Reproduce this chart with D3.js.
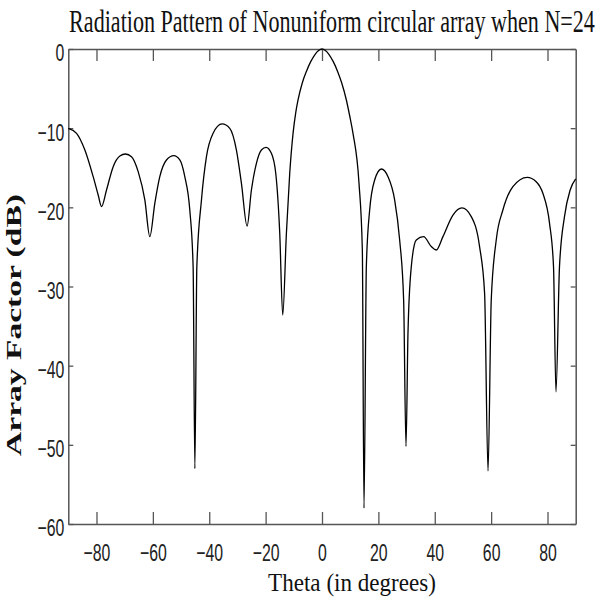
<!DOCTYPE html>
<html><head><meta charset="utf-8">
<script src="https://cdn.jsdelivr.net/npm/d3@7/dist/d3.min.js"></script>
<style>body{margin:0;background:#fff}svg{display:block}</style>
</head><body>
<svg id="chart" width="600" height="604"></svg>
<script>
// Angle (degrees) and array factor (dB)
const thetaDeg = [
  -90.0, -87.07, -84.12, -81.17, -79.40, -78.21, -76.44, -74.08, -71.71, -69.70,
  -67.58, -65.21, -62.85, -61.08, -59.31, -57.54, -55.17, -52.57, -50.44, -48.67,
  -46.90, -45.72, -45.10, -44.40, -42.76, -40.99, -38.63, -35.44, -32.72, -30.36,
  -28.58, -26.58, -25.04, -23.27, -21.49, -19.84, -17.95, -16.41, -14.99, -13.93,
  -12.63, -11.45, -10.27, -9.3, -8.50, -7.0, -5.5, -4.0, -2.5, -1.2, 0,
  1.2, 2.5, 4.0, 5.5, 7.0, 8.64, 9.8, 11.0, 13.13, 14.31, 14.90,
  15.73, 16.91, 18.68, 21.05, 23.41, 25.77, 27.55, 28.96, 29.80, 30.50,
  31.68, 33.45, 36.05, 38.77, 40.54, 42.90, 46.45, 49.64, 52.95, 55.90,
  57.68, 58.90, 60.04, 61.81, 64.17, 67.72, 72.80, 75.99, 78.35, 80.72,
  82.13, 83.0, 84.25, 86.02, 88.03, 90.0
];
const afDb = [
  -10.02, -10.65, -12.76, -16.13, -18.44, -19.91, -17.81, -14.86, -13.52, -13.26,
  -13.60, -15.49, -19.07, -23.70, -19.49, -16.13, -14.02, -13.47, -14.02, -16.13,
  -20.34, -27.49, -53.0, -27.5, -19.07, -13.60, -10.65, -9.47, -10.02, -12.76,
  -16.97, -22.36, -17.81, -14.44, -12.76, -12.42, -13.18, -15.70, -23.28, -33.6,
  -23.28, -15.70, -10.65, -8.0, -6.44, -4.3, -2.8, -1.6, -0.7, -0.2, 0,
  -0.2, -0.7, -1.6, -2.8, -4.3, -6.44, -8.4, -10.65, -16.97, -25.39, -58.0,
  -27.49, -20.34, -16.55, -15.16, -16.13, -19.07, -24.12, -31.70, -50.2, -35.9,
  -27.49, -24.12, -23.70, -24.96, -25.39, -23.70, -20.97, -20.08, -21.17, -24.96,
  -30.85, -53.3, -31.70, -24.12, -20.34, -17.39, -16.21, -16.76, -18.23, -22.02,
  -27.49, -43.3, -27.49, -21.17, -17.81, -16.4
];
const xTicks = [-80, -60, -40, -20, 0, 20, 40, 60, 80];
const yTicks = [0, -10, -20, -30, -40, -50, -60];
const titleText = "Radiation Pattern of Nonuniform circular array when N=24";
const xLabel = "Theta (in degrees)";
const yLabel = "Array Factor (dB)";

const svg = d3.select("#chart");
const L = 68.3, R = 575.7, T = 49, B = 524;
const x = d3.scaleLinear().domain([-90, 90]).range([L, R]);
const y = d3.scaleLinear().domain([-60, 0]).range([B, T]);

const axisColor = "#555";
function styleAxis(g) {
  g.selectAll("path.domain").attr("stroke", axisColor).attr("stroke-width", 1.5);
  g.selectAll(".tick line").attr("stroke", axisColor).attr("stroke-width", 1.3);
}

// bottom
const gb = svg.append("g").attr("transform", `translate(0,${B})`)
  .call(d3.axisBottom(x).tickValues(xTicks).tickSizeInner(-12).tickSizeOuter(0).tickFormat(d3.format("d")));
styleAxis(gb);
gb.selectAll(".tick text")
  .attr("y", 0).attr("dy", null)
  .attr("transform", "translate(0,37) scale(0.66,1)")
  .attr("fill", "#222")
  .style("font-family", "'Liberation Sans', Arial, sans-serif").style("font-size", "24px");

// top
const gt = svg.append("g").attr("transform", `translate(0,${T})`)
  .call(d3.axisTop(x).tickValues(xTicks).tickSizeInner(-12).tickSizeOuter(0).tickFormat(""));
styleAxis(gt);

// left
const gl = svg.append("g").attr("transform", `translate(${L},0)`)
  .call(d3.axisLeft(y).tickValues(yTicks).tickSizeInner(-5).tickSizeOuter(0).tickFormat(d3.format("d")));
styleAxis(gl);
gl.selectAll(".tick text")
  .attr("x", 0).attr("dy", "0.35em")
  .attr("text-anchor", "end")
  .attr("transform", "translate(-4,3.5) scale(0.66,1)")
  .attr("fill", "#222")
  .style("font-family", "'Liberation Sans', Arial, sans-serif").style("font-size", "24px");

// right
const gr = svg.append("g").attr("transform", `translate(${R},0)`)
  .call(d3.axisRight(y).tickValues(yTicks).tickSizeInner(-5).tickSizeOuter(0).tickFormat(""));
styleAxis(gr);

// curve
const pts = thetaDeg.map((t, i) => [t, afDb[i]]);
svg.append("path")
  .datum(pts)
  .attr("fill", "none")
  .attr("stroke", "#000")
  .attr("stroke-width", 1.3)
  .attr("d", d3.line().x(d => x(d[0])).y(d => y(d[1])).curve(d3.curveMonotoneX));

// helper: horizontally fit a text to a width by scaling
function fitText(sel, cx, cy, width, rotate) {
  const n = sel.node().getComputedTextLength();
  const s = width / n;
  sel.attr("transform", `translate(${cx},${cy})${rotate ? " rotate(-90)" : ""} scale(${s},1)`);
}

// title
const tt = svg.append("text")
  .attr("text-anchor", "middle")
  .style("font-family", "'Liberation Serif', 'Times New Roman', serif").style("font-size", "31px")
  .attr("fill", "#111")
  .text(titleText);
fitText(tt, 332, 32, 526, false);

// x label
const xl = svg.append("text")
  .attr("text-anchor", "middle")
  .style("font-family", "'Liberation Serif', 'Times New Roman', serif").style("font-size", "25px")
  .attr("fill", "#111")
  .text(xLabel);
fitText(xl, 352, 591, 168, false);

// y label
const yl = svg.append("text")
  .attr("text-anchor", "middle")
  .style("font-family", "'Liberation Serif', 'Times New Roman', serif").style("font-size", "21px")
  .style("font-weight", "bold")
  .attr("fill", "#111")
  .text(yLabel);
fitText(yl, 21, 325, 262, true);
</script>
</body></html>
